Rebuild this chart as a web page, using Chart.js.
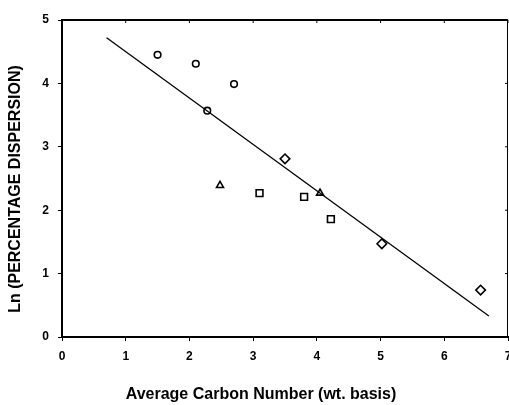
<!DOCTYPE html>
<html>
<head>
<meta charset="utf-8">
<script src="https://cdn.jsdelivr.net/npm/chart.js@4.4.0/dist/chart.umd.min.js"></script>
<style>
    body { margin: 0; background: #fff; }
    #wrap { width: 509px; height: 405px; position: relative; }
</style>
</head>
<body>
<div id="wrap"><canvas id="chart"></canvas></div>
<script>
// data
const circlePts = [[1.5, 4.45], [2.1, 4.31], [2.7, 3.99], [2.28, 3.57]];
const trianglePts = [[2.48, 2.39], [4.05, 2.27]];
const squarePts = [[3.1, 2.27], [3.8, 2.21], [4.22, 1.86]];
const diamondPts = [[3.5, 2.81], [5.02, 1.47], [6.57, 0.74]];
const fitLine = [[0.7, 4.72], [6.7, 0.33]];
const xTicks = [0, 1, 2, 3, 4, 5, 6, 7];
const yTicks = [0, 1, 2, 3, 4, 5];
const xTitle = 'Average Carbon Number (wt. basis)';
const yTitle = 'Ln (PERCENTAGE DISPERSION)';

const toXY = arr => arr.map(p => ({ x: p[0], y: p[1] }));
const fontFamily = "'Liberation Sans', Arial, sans-serif";

function markerSet(pts, style, radius) {
    return {
        type: 'scatter',
        data: toXY(pts),
        pointStyle: style,
        pointRadius: radius,
        pointBorderWidth: 1.6,
        pointBorderColor: '#000',
        pointBackgroundColor: '#fff'
    };
}

// top and right border of the frame, with inward ticks
const framePlugin = {
    id: 'frame',
    afterDatasetsDraw(chart) {
        const ctx = chart.ctx;
        const a = chart.chartArea;
        const xs = chart.scales.x, ys = chart.scales.y;
        ctx.save();
        ctx.strokeStyle = '#000';
        ctx.lineWidth = 2;
        ctx.beginPath();
        ctx.moveTo(a.left, a.top);
        ctx.lineTo(a.right, a.top);
        ctx.stroke();
        ctx.lineWidth = 1;
        ctx.beginPath();
        ctx.moveTo(a.right - 0.5, a.top);
        ctx.lineTo(a.right - 0.5, a.bottom);
        ctx.stroke();
        xTicks.forEach(v => {
            const px = xs.getPixelForValue(v);
            ctx.beginPath();
            ctx.moveTo(px, a.top);
            ctx.lineTo(px, a.top + 3);
            ctx.stroke();
        });
        yTicks.forEach(v => {
            const py = ys.getPixelForValue(v);
            ctx.beginPath();
            ctx.moveTo(a.right, py);
            ctx.lineTo(a.right - 3, py);
            ctx.stroke();
        });
        ctx.restore();
    }
};

// axis titles sit off-centre in the original, so place them by hand
const titlePlugin = {
    id: 'axisTitles',
    afterDraw(chart, args, opts) {
        const ctx = chart.ctx;
        ctx.save();
        ctx.fillStyle = '#000';
        ctx.font = 'bold ' + opts.size + 'px ' + fontFamily;
        ctx.textAlign = 'center';
        ctx.textBaseline = 'middle';
        ctx.fillText(xTitle, opts.xAt[0], opts.xAt[1]);
        ctx.translate(opts.yAt[0], opts.yAt[1]);
        ctx.rotate(-Math.PI / 2);
        ctx.fillText(yTitle, 0, 0);
        ctx.restore();
    }
};

const boldFont = (size) => ({ family: fontFamily, size: size, weight: 'bold' });

new Chart(document.getElementById('chart'), {
    type: 'scatter',
    data: {
        datasets: [
            {
                type: 'line',
                data: toXY(fitLine),
                borderColor: '#000',
                borderWidth: 1.3,
                pointRadius: 0,
                fill: false
            },
            markerSet(circlePts, 'circle', 3.3),
            markerSet(trianglePts, 'triangle', 4),
            markerSet(squarePts, 'rect', 4.8),
            markerSet(diamondPts, 'rectRot', 4.8)
        ]
    },
    options: {
        responsive: true,
        maintainAspectRatio: false,
        animation: false,
        layout: { autoPadding: false, padding: { top: 20, right: 1, bottom: 0, left: 0 } },
        plugins: {
            legend: { display: false },
            tooltip: { enabled: false },
            axisTitles: { size: 16, xAt: [261, 395], yAt: [16, 189] }
        },
        scales: {
            x: {
                min: 0,
                max: 7,
                afterBuildTicks: s => { s.ticks = xTicks.map(v => ({ value: v })); },
                afterFit: s => { s.height = 68; s.paddingRight = 0; s.paddingLeft = 0; },
                ticks: { color: '#000', font: boldFont(12), padding: 8, maxRotation: 0 },
                grid: { drawOnChartArea: false, color: '#000', tickLength: 4, lineWidth: 1 },
                border: { color: '#000', width: 2 }
            },
            y: {
                min: 0,
                max: 5,
                afterBuildTicks: s => { s.ticks = yTicks.map(v => ({ value: v })); },
                afterFit: s => { s.width = 62; },
                ticks: { color: '#000', font: boldFont(12), padding: 9 },
                grid: { drawOnChartArea: false, color: '#000', tickLength: 4, lineWidth: 1 },
                border: { color: '#000', width: 2 }
            }
        }
    },
    plugins: [framePlugin, titlePlugin]
});
</script>
</body>
</html>
